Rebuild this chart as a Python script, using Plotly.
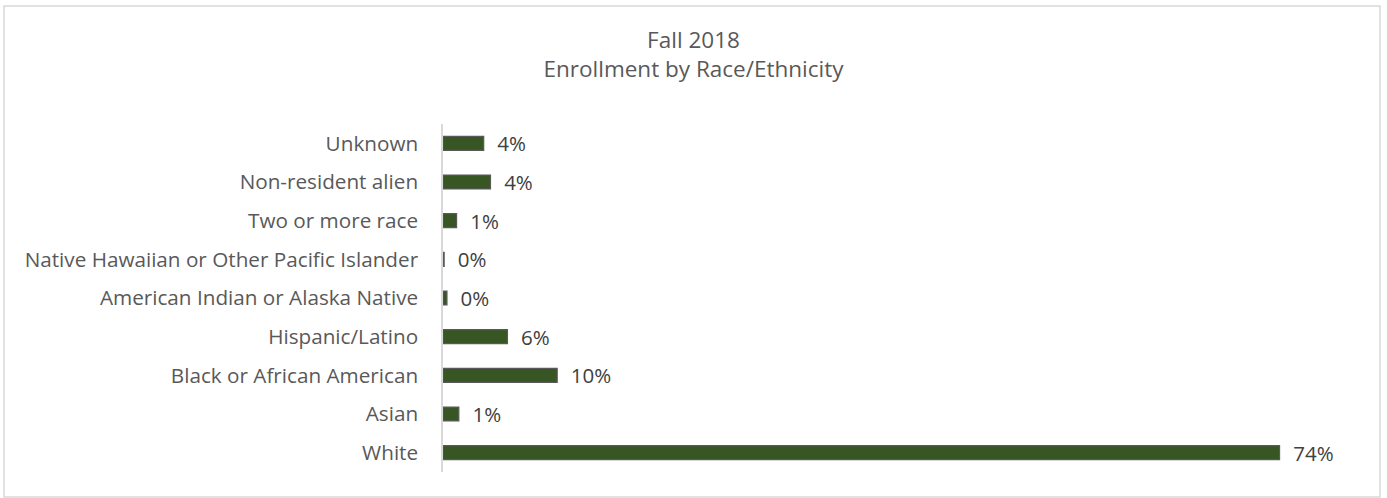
import plotly.graph_objects as go

categories = ["White", "Asian", "Black or African American", "Hispanic/Latino",
              "American Indian or Alaska Native", "Native Hawaiian or Other Pacific Islander",
              "Two or more race", "Non-resident alien", "Unknown"]
values = [74.0, 1.4, 10.1, 5.7, 0.35, 0.1, 1.2, 4.2, 3.6]
title_lines = ["Fall 2018", "Enrollment by Race/Ethnicity"]

W, H = 1387, 498
L, R, T, B = 443, 17, 124, 26
pw, ph = W - L - R, H - T - B

fig = go.Figure(go.Bar(
    y=categories, x=values, orientation="h",
    marker=dict(color="#375623", line=dict(color="#595959", width=1.2)),
    texttemplate="  %{x:.0f}%", textposition="outside", constraintext="none",
    textfont=dict(family="Open Sans", size=20.5, color="#404040"),
    cliponaxis=False, hoverinfo="skip",
))

def px_x(x):
    return (x - L) / pw

def px_y(y):
    return (H - B - y) / ph

fig.update_layout(
    width=W, height=H,
    margin=dict(l=L, r=R, t=T, b=B),
    paper_bgcolor="white", plot_bgcolor="white",
    bargap=0.64,
    showlegend=False,
    font=dict(family="Open Sans", color="#595959"),
    title=dict(text="<br>".join(title_lines), x=0.5, xref="container",
               xanchor="center", y=1 - 48 / H, yref="container", yanchor="middle",
               font=dict(family="Open Sans", size=22.5, color="#595959")),
    xaxis=dict(range=[0, 82], visible=False, fixedrange=True),
    yaxis=dict(showline=True, linecolor="#d9d9d9", linewidth=1.5, showgrid=False,
               zeroline=False, ticks="", ticklabelstandoff=19, fixedrange=True,
               tickfont=dict(family="Open Sans", size=20.7, color="#595959")),
    shapes=[dict(type="rect", xref="paper", yref="paper",
                 x0=px_x(4), x1=px_x(1380), y0=px_y(497), y1=px_y(6),
                 line=dict(color="#d9d9d9", width=1.5), fillcolor="rgba(0,0,0,0)", layer="below")],
)

fig.write_html("out.html", config={"displayModeBar": False},
               post_script="document.body.style.margin='0';")
